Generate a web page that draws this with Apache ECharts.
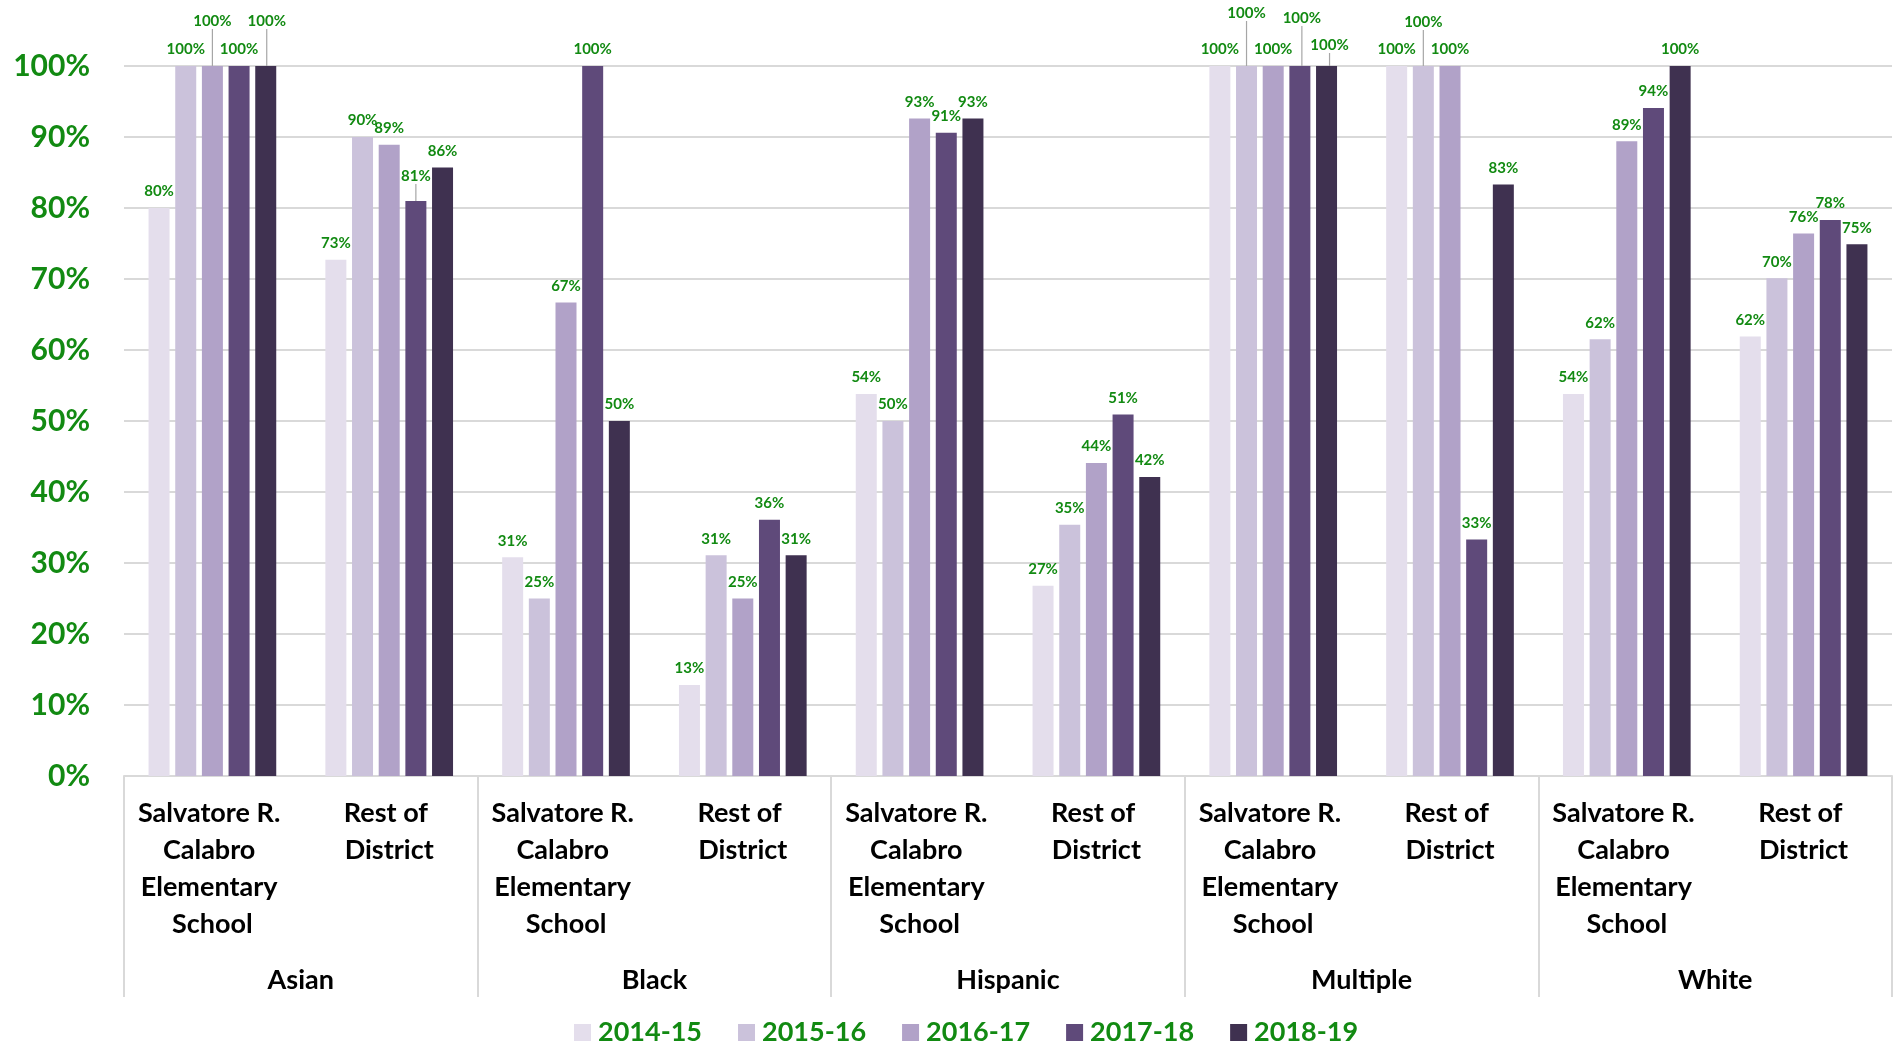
<!DOCTYPE html>
<html>
<head>
<meta charset="utf-8">
<script src="https://cdn.jsdelivr.net/npm/echarts@6/dist/echarts.min.js"></script>
<style>
html,body{margin:0;padding:0;background:#fff;}
#chart{width:1898px;height:1043px;}
</style>
</head>
<body>
<div id="chart"></div>
<script>
// ---- data ----
const groups = ['Asian', 'Black', 'Hispanic', 'Multiple', 'White'];
const schools = ['Salvatore R. Calabro Elementary School', 'Rest of District'];
const years = ['2014-15', '2015-16', '2016-17', '2017-18', '2018-19'];
const yTicks = [0, 10, 20, 30, 40, 50, 60, 70, 80, 90, 100];

// values per year, in order: Asian-School, Asian-Rest, Black-School, Black-Rest, Hispanic-School, Hispanic-Rest, Multiple-School, Multiple-Rest, White-School, White-Rest
const v2014_15 = [80, 72.7, 30.8, 12.8, 53.8, 26.8, 100, 100, 53.8, 61.9];
const v2015_16 = [100, 90, 25, 31.1, 50, 35.4, 100, 100, 61.5, 70.1];
const v2016_17 = [100, 88.9, 66.7, 25, 92.6, 44.1, 100, 100, 89.4, 76.4];
const v2017_18 = [100, 81, 100, 36.1, 90.6, 50.9, 100, 33.3, 94.1, 78.3];
const v2018_19 = [100, 85.7, 50, 31.1, 92.6, 42.1, 100, 83.3, 100, 74.9];
const seriesValues = [v2014_15, v2015_16, v2016_17, v2017_18, v2018_19];

// ---- style ----
const colors = ['#E4DEEC', '#CBC2DB', '#B1A2C8', '#5F4A7A', '#3F3150'];
const green = '#128A12';
const gridGray = '#D9D9D9';
const font = 'Lato, "Open Sans", sans-serif';
// labels lifted with leader lines (Excel-style manual placement): key "series-index" -> [dx, dy]
const labelMoves = {
  '2-0': [0, -28], '4-0': [1, -28], '3-1': [0, -8],
  '1-6': [0, -36], '3-6': [2, -31], '4-6': [3, -4],
  '1-7': [0, -27]
};

const categories = [];
groups.forEach(() => schools.forEach(s => categories.push(s)));

const series = years.map((y, si) => ({
  name: y,
  type: 'bar',
  xAxisIndex: 0,
  barWidth: 21,
  barGap: '27%',
  itemStyle: { color: colors[si] },
  label: {
    show: true, position: 'top', distance: 9,
    color: green, fontFamily: font, fontWeight: 'bold', fontSize: 15,
    formatter: p => Math.round(p.value) + '%'
  },
  labelLine: { show: false, lineStyle: { color: '#A6A6A6', width: 1.2 } },
  labelLayout: p => {
    const m = labelMoves[si + '-' + p.dataIndex];
    return m ? { dx: m[0], dy: m[1] } : {};
  },
  data: seriesValues[si].map((v, di) => labelMoves[si + '-' + di]
    ? { value: v, labelLine: { show: true } }
    : v)
}));

const chart = echarts.init(document.getElementById('chart'));
chart.setOption({
  animation: false,
  backgroundColor: '#fff',
  color: colors,
  grid: { left: 124, right: 6, top: 66, bottom: 267, containLabel: false },
  legend: {
    data: years,
    left: 569, top: 1014,
    icon: 'rect', itemWidth: 17, itemHeight: 17, itemGap: 36,
    textStyle: { color: green, fontFamily: font, fontWeight: 'bold', fontSize: 27, padding: [0, 0, 0, 2] }
  },
  xAxis: [{
    type: 'category',
    data: categories,
    axisLine: { show: true, lineStyle: { color: gridGray, width: 2 } },
    axisTick: { show: false },
    axisLabel: {
      interval: 0, margin: 19, color: '#000', fontFamily: font, fontWeight: 'bold',
      fontSize: 27, lineHeight: 37, width: 155, overflow: 'break', align: 'center'
    }
  }, {
    type: 'category',
    data: groups,
    position: 'bottom',
    axisLine: { show: false },
    axisTick: { show: true, length: 221, lineStyle: { color: gridGray, width: 2 } },
    axisLabel: {
      interval: 0, margin: 188, color: '#000', fontFamily: font, fontWeight: 'bold',
      fontSize: 27, lineHeight: 32
    }
  }],
  yAxis: {
    type: 'value', min: 0, max: 100, interval: 10,
    axisLine: { show: false }, axisTick: { show: false },
    splitLine: { lineStyle: { color: gridGray, width: 2 } },
    axisLabel: {
      margin: 34, color: green, fontFamily: font, fontWeight: 'bold', fontSize: 30,
      formatter: v => yTicks.includes(v) ? v + '%' : ''
    }
  },
  series: series
});
</script>
</body>
</html>
